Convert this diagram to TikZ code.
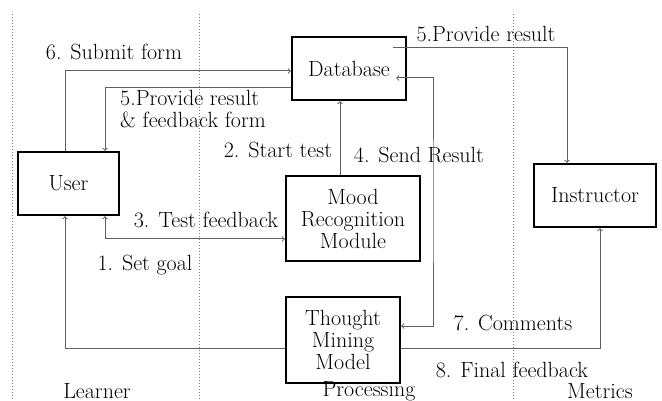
\documentclass[tikz,border=0pt]{standalone}
\usepackage{tikz}
\usetikzlibrary{arrows, positioning}
\usepackage{xcolor}

\definecolor{flowgray}{RGB}{95,95,95}
\definecolor{lanegray}{RGB}{120,120,120}

\tikzset{
  blockbox/.style={draw=black, line width=2.4pt, inner sep=0pt, align=center},
  flow/.style={draw=flowgray, line width=1pt},
  lane/.style={draw=lanegray, dotted, line width=1pt},
  lbl/.style={inner sep=0pt}
}

\begin{document}
\begin{tikzpicture}[x=1pt, y=-1pt, font=\fontsize{22}{22}\selectfont, >=to]
        \useasboundingbox (0,0) rectangle (662,401);

        % Draw dotted lane separators
        \draw[lane] (12,14) -- (12,401);
        \draw[lane] (199,14) -- (199,401);
        \draw[lane] (513,14) -- (513,401);

        % Draw the blocks
        \node[blockbox, minimum width=101pt, minimum height=63pt] (user) at (68.5,183.5) {User};
        \node[blockbox, minimum width=114pt, minimum height=63pt] (db) at (349,68.5) {Database};
        \node[blockbox, minimum width=134pt, minimum height=85pt] (mood) at (353,218.5) {Mood\\Recognition\\Module};
        \node[blockbox, minimum width=122pt, minimum height=63pt] (instr) at (595,195.5) {Instructor};
        \node[blockbox, minimum width=114pt, minimum height=86pt] (thought) at (343,340) {Thought\\Mining\\Model};
        \coordinate (sendx) at (433,200);

        % Draw connectors
        \draw[flow,->] ([xshift=-3.5pt]user.north) |- ([yshift=-2.5pt]db.west);
        \draw[flow,->] ([yshift=-19.5pt]db.west) -| ([xshift=36.5pt]user.north);
        \draw[flow,->] ([xshift=-13pt]mood.north) -- ([xshift=-13pt]mood.north |- db.south);
        \draw[flow,<->] ([xshift=-11pt,yshift=-9.5pt]db.east) -| (sendx) |- ([yshift=14pt]thought.east);
        \draw[flow,->] ([xshift=44pt,yshift=20.5pt]db.center) -| ([xshift=-28pt]instr.north);
        \draw[flow,<->] ([xshift=36.5pt]user.south) |- ([yshift=-20.5pt]mood.west);
        \draw[flow,->] ([yshift=-8pt]thought.west) -| ([xshift=-3.5pt]user.south);
        \draw[flow,->] ([yshift=-8pt]thought.east) -| ([xshift=5pt]instr.south);

        % Connector labels
        \node[lbl] (l6) at (114,52) {6. Submit form};
        \node[lbl, anchor=west, align=left] (l5a) at (120,109) {5.Provide result\\\& feedback form};
        \node[lbl] (l2) at (278,150) {2. Start test};
        \node[lbl] (l4) at (419,155) {4. Send Result};
        \node[lbl] (l5b) at (486,34) {5.Provide result};
        \node[lbl] (l3) at (206,220) {3. Test feedback};
        \node[lbl] (l1) at (145,265) {1. Set goal};
        \node[lbl] (l7) at (513,323) {7. Comments};
        \node[lbl] (l8) at (512,370) {8. Final feedback};

        % Lane names
        \node[lbl] (learner) at (97,391) {Learner};
        \node[lbl] (processing) at (369,391) {Processing};
        \node[lbl] (metrics) at (600,391) {Metrics};
    \end{tikzpicture}
\end{document}
